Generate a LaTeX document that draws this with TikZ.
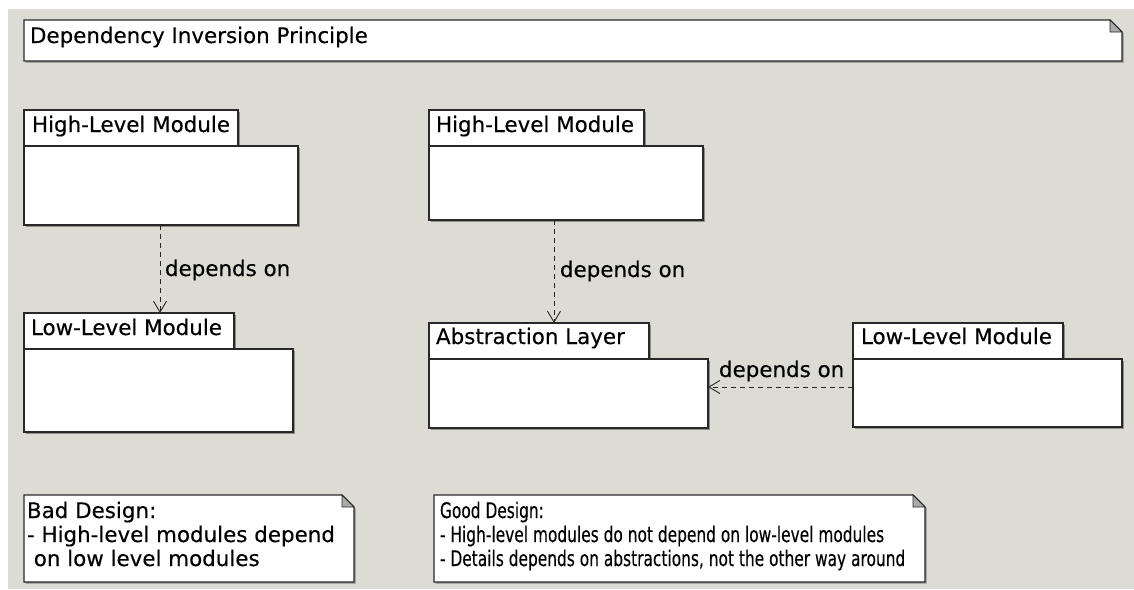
\documentclass[tikz,border=0pt]{standalone}
\usepackage{fontspec}
\setmainfont[FakeBold=0.3]{DejaVu Sans}
\usetikzlibrary{arrows.meta,shadows,calc}
\definecolor{canvas}{RGB}{220,220,212}
\definecolor{edge}{RGB}{40,40,40}
\definecolor{fold}{RGB}{170,170,170}
\begin{document}
\begin{tikzpicture}[x=1pt,y=-1pt,
  every node/.style={inner sep=0pt,outer sep=0pt},
  shade box/.style={drop shadow={shadow xshift=1.6pt,shadow yshift=-1.6pt,fill=black,opacity=.35}},
  pkgpart/.style={draw=edge,fill=white,line width=1.1pt,shade box,anchor=north west},
  notearea/.style={anchor=north west},
  notepath/.style={draw=edge,fill=white,line width=1.1pt,shade box,line join=miter},
  foldpath/.style={draw=edge,fill=fold,line width=0.8pt},
  txt/.style={font=\fontsize{21.4}{25}\selectfont,anchor=base west,text=black},
  dep/.style={draw=black!85,line width=0.9pt,dash pattern=on 5pt off 4pt,
    -{Straight Barb[length=11pt,width=13pt,line width=0.9pt]}}
]
\useasboundingbox (0,0) rectangle (1134,589);
\fill[canvas] (8,9) rectangle (1134,589);

% folded-corner note: name, x0, y0, width, height
\newcommand\dognote[5]{%
  \node[notearea,minimum width=#4pt,minimum height=#5pt] (#1) at (#2,#3) {};
  \path[notepath] (#1.north west) -- ($(#1.north east)+(-12,0)$) -- ($(#1.north east)+(0,12)$)
     -- (#1.south east) -- (#1.south west) -- cycle;
  \path[foldpath] ($(#1.north east)+(-12,0)$) -- ($(#1.north east)+(-12,12)$) -- ($(#1.north east)+(0,12)$) -- cycle;
}
% narrow text for the wide note
\newcommand\narrowtext[1]{\scalebox{0.72}[1]{#1}}

% title note
\dognote{title}{24}{20}{1098}{41}
\node[txt] (titletext) at (30,43) {Dependency Inversion Principle};

% left side: direct dependency
\node[pkgpart,minimum width=214pt,minimum height=36pt] (hlAtab) at (24,110) {};
\node[pkgpart,minimum width=274pt,minimum height=79pt] (hlAbody) at (24,146) {};
\node[txt] (hlAname) at (32,132) {High-Level Module};

\node[pkgpart,minimum width=210pt,minimum height=36pt] (llAtab) at (24,313) {};
\node[pkgpart,minimum width=269pt,minimum height=83pt] (llAbody) at (24,349) {};
\node[txt] (llAname) at (31,335) {Low-Level Module};

% right side: dependency through an abstraction
\node[pkgpart,minimum width=215pt,minimum height=36pt] (hlBtab) at (429,110) {};
\node[pkgpart,minimum width=274pt,minimum height=74pt] (hlBbody) at (429,146) {};
\node[txt] (hlBname) at (436,132) {High-Level Module};

\node[pkgpart,minimum width=220pt,minimum height=36pt] (abstab) at (429,323) {};
\node[pkgpart,minimum width=279pt,minimum height=69pt] (absbody) at (429,359) {};
\node[txt] (absname) at (436,344) {Abstraction Layer};

\node[pkgpart,minimum width=210pt,minimum height=36pt] (llBtab) at (853,323) {};
\node[pkgpart,minimum width=269pt,minimum height=68pt] (llBbody) at (853,359) {};
\node[txt] (llBname) at (861,344) {Low-Level Module};

% dependencies
\coordinate (depAfrom) at ($(hlAbody.south west)+(136,0)$);
\draw[dep] (depAfrom) -- (depAfrom |- llAtab.north);
\node[txt] (depAlabel) at (165,276) {depends on};

\coordinate (depBfrom) at ($(hlBbody.south west)+(125,0)$);
\draw[dep] (depBfrom) -- (depBfrom |- abstab.north);
\node[txt] (depBlabel) at (560,277) {depends on};

\coordinate (depCfrom) at ($(llBbody.north west)+(0,28)$);
\draw[dep] (depCfrom) -- (depCfrom -| absbody.east);
\node[txt] (depClabel) at (719,377) {depends on};

% design notes
\dognote{badnote}{24}{495}{330}{87}
\node[txt] (bad1) at (27,518) {Bad Design:};
\node[txt] (bad2) at (27,542) {- High-level modules depend};
\node[txt] (bad3) at (27,566) {\ on low level modules};

\dognote{goodnote}{434}{495}{491}{87}
\node[txt] (good1) at (440,518) {\narrowtext{Good Design:}};
\node[txt] (good2) at (440,542) {\narrowtext{- High-level modules do not depend on low-level modules}};
\node[txt] (good3) at (440,566) {\narrowtext{- Details depends on abstractions, not the other way around}};
\end{tikzpicture}
\end{document}
